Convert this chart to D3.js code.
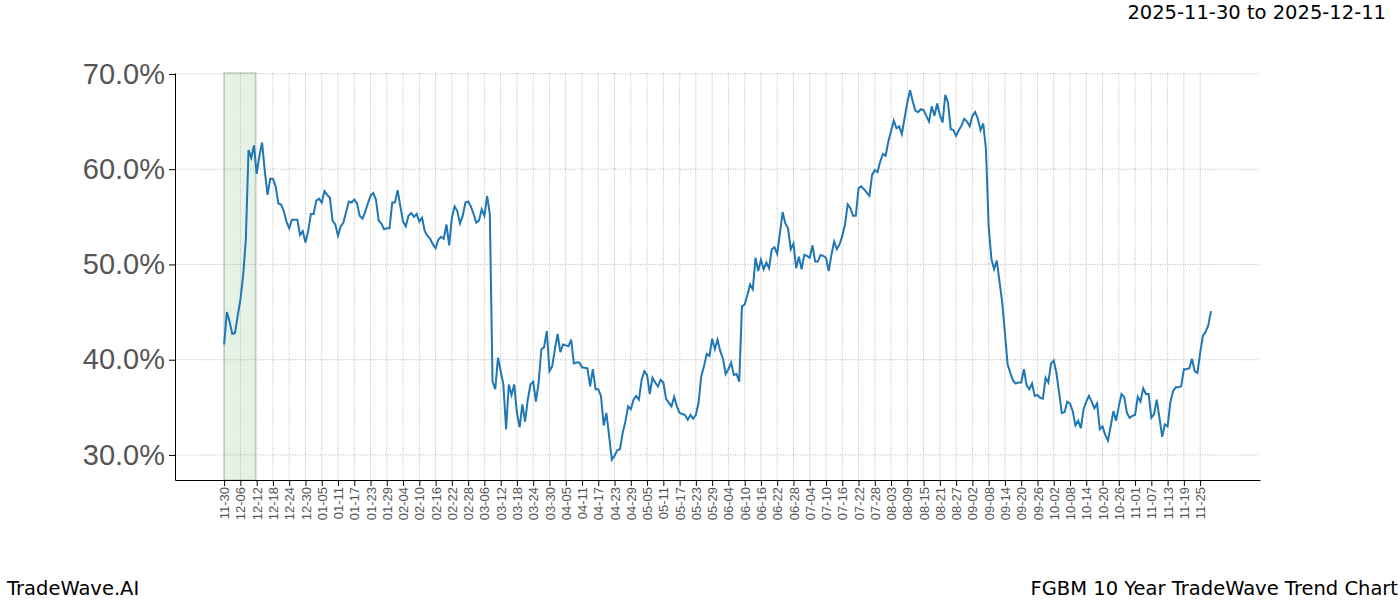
<!DOCTYPE html>
<html>
<head>
<meta charset="utf-8">
<script src="https://cdn.jsdelivr.net/npm/d3@7"></script>
<style>
  body { margin: 0; background: #fff; font-family: "DejaVu Sans", sans-serif; }
</style>
</head>
<body>
<div id="chart"></div>
<script>
// days since 2024-11-30 and trend value (%)
const days = [0,1,2,3,4,5,6,7,8,9,10,11,12,13,14,15,16,17,18,19,20,21,22,23,24,25,26,27,28,29,30,31,32,33,34,35,36,37,38,39,40,41,42,43,44,45,46,47,48,49,50,51,52,53,54,55,56,57,58,59,60,61,62,63,64,65,66,67,68,69,70,71,72,73,74,75,76,77,78,79,80,81,82,83,84,85,86,87,88,89,90,91,92,93,94,95,96,97,98,
  99,100,101,103,104,105,106,107,108,109,110,111,112,113,114,115,116,117,118,119,120,121,122,123,124,125,126,127,128,129,130,131,132,134,135,136,137,138,139,140,141,142,143,144,145,146,147,148,149,150,151,152,153,154,155,156,157,158,159,160,161,162,163,164,165,166,167,168,170,171,172,173,174,175,176,177,178,179,180,181,182,183,184,185,186,187,188,189,190,191,192,193,194,195,196,197,198,199,200,201,202,203,204,205,206,207,208,209,210,211,212,213,214,215,216,217,218,219,220,221,222,223,224,225,226,227,228,229,230,231,
  232,233,234,235,236,238,239,240,241,242,243,244,245,246,247,248,249,250,251,252,253,254,255,256,257,258,259,260,261,262,263,264,265,266,267,268,269,270,271,272,273,274,275,276,277,278,279,280,281,282,283,284,285,286,287,288,289,290,291,292,293,294,295,296,297,298,299,300,301,302,303,304,305,306,307,308,309,310,311,312,313,314,315,316,317,318,319,320,321,322,323,324,325,326,327,328,329,330,331,332,333,334,335,336,337,338,339,340,341,342,343,344,345,346,347,348,349,350,351,352,353,354,355,356,357,358,359,360,361,362,363,364];
const values = [41.6,45.0,44.0,42.7,42.8,44.6,46.3,48.8,52.6,62.0,61.2,62.5,59.5,61.4,62.8,59.8,57.3,59.0,59.0,58.2,56.4,56.3,55.6,54.5,53.8,54.7,54.7,54.7,53.1,53.5,52.3,53.5,55.3,55.3,56.7,56.9,56.5,57.7,57.3,57.0,54.6,54.2,53.0,54.0,54.4,55.5,56.6,56.5,56.8,56.4,55.1,54.8,55.5,56.4,57.2,57.5,56.8,54.6,54.3,53.7,53.8,53.8,56.5,56.5,57.8,56.1,54.5,54.0,55.1,55.4,55.0,55.3,54.5,54.9,53.5,53.0,52.7,52.1,51.7,52.6,52.9,52.7,54.2,52.0,54.9,56.1,55.6,54.3,55.1,56.5,56.6,56.1,55.3,54.4,54.6,55.8,55.1,57.2,55.3,
  37.7,36.9,40.2,37.4,32.7,37.4,36.3,37.4,34.4,32.9,35.3,33.5,35.8,37.4,37.7,35.6,37.6,41.1,41.3,43.0,38.8,39.3,41.1,42.7,40.8,41.6,41.5,41.4,42.1,39.6,39.7,39.7,39.2,39.1,37.2,39.0,36.9,36.9,36.2,33.1,34.4,32.0,29.5,29.9,30.5,30.6,32.3,33.5,35.1,34.8,35.8,36.2,35.8,37.9,38.8,38.4,36.4,38.1,37.6,37.2,37.9,37.6,35.9,35.5,35.1,36.1,35.1,34.4,34.2,33.7,34.2,33.8,34.2,35.5,38.3,39.3,40.6,40.4,42.2,41.1,42.1,40.9,40.1,38.5,39.0,39.7,38.4,38.5,37.7,45.6,45.8,46.8,47.9,47.4,50.7,49.3,50.5,49.5,50.2,49.6,51.6,51.8,51.1,53.3,55.5,54.3,53.8,51.6,52.2,49.6,50.8,49.5,51.0,50.9,50.7,52.0,50.3,50.3,51.0,50.9,50.7,49.3,51.0,52.4,51.6,52.1,53.0,54.2,56.3,55.9,
  55.1,55.1,58.0,58.2,57.9,57.2,59.4,59.9,59.7,60.8,61.6,61.4,62.9,64.0,65.1,64.3,64.5,63.7,65.4,67.0,68.3,67.1,66.1,66.0,66.3,66.2,65.6,65.0,66.6,65.6,66.9,65.7,64.9,67.8,67.0,64.2,64.1,63.5,64.1,64.6,65.3,65.0,64.5,65.6,66.0,65.3,64.1,64.8,62.1,54.0,50.6,49.5,50.4,48.2,46.0,42.8,39.5,38.6,37.8,37.5,37.6,37.6,39.0,37.3,36.9,37.5,36.2,36.3,36.0,35.9,38.1,37.6,39.6,39.9,38.6,36.5,34.4,34.5,35.6,35.4,34.6,33.1,33.6,32.8,34.8,35.6,36.2,35.6,34.9,35.4,32.7,33.0,32.1,31.5,33.0,34.6,33.6,35.1,36.4,36.1,34.4,33.9,34.1,34.2,36.1,35.6,37.0,36.4,36.4,33.9,34.3,35.8,33.9,31.9,33.2,33.0,35.5,36.7,37.1,37.1,37.2,39.0,39.0,39.1,40.1,38.8,38.6,40.7,42.5,42.9,43.6,45.1];
const yTicks = [30, 40, 50, 60, 70];
const spanDays = [0, 11.5];
const titleText = '2025-11-30 to 2025-12-11';
const leftFooter = 'TradeWave.AI';
const rightFooter = 'FGBM 10 Year TradeWave Trend Chart';

const start = new Date(2024, 10, 30);
const data = days.map((d, i) => ({ date: d3.timeDay.offset(start, d), value: values[i] }));
const tickDates = d3.range(0, 361, 6).map(d => d3.timeDay.offset(start, d));

const width = 1400;
const height = 600;
const margin = { top: 73, right: 140, bottom: 120, left: 175 };
const fmt = d3.timeFormat('%m-%d');

const svg = d3.select('#chart').append('svg')
  .attr('width', width)
  .attr('height', height);

const x = d3.scaleTime()
  .domain([d3.timeHour.offset(start, -18.1 * 24), d3.timeHour.offset(start, 382.1 * 24)])
  .range([margin.left, width - margin.right]);
const y = d3.scaleLinear()
  .domain([27.37, 70.1])
  .range([height - margin.bottom, margin.top]);

const spanX0 = x(d3.timeHour.offset(start, spanDays[0] * 24));
const spanX1 = x(d3.timeHour.offset(start, spanDays[1] * 24));
svg.append('rect')
  .attr('x', spanX0)
  .attr('y', margin.top)
  .attr('width', spanX1 - spanX0)
  .attr('height', height - margin.bottom - margin.top)
  .style('fill', '#e5f2e5')
  .style('stroke', '#bcd6bc')
  .style('stroke-width', 1.5);

// grid
svg.append('g').selectAll('line.v')
  .data(tickDates)
  .enter().append('line')
  .attr('x1', d => x(d)).attr('x2', d => x(d))
  .attr('y1', margin.top).attr('y2', height - margin.bottom)
  .style('stroke', '#999').style('stroke-width', 0.7).style('stroke-dasharray', '1,1.5');
svg.append('g').selectAll('line.h')
  .data(yTicks)
  .enter().append('line')
  .attr('x1', margin.left).attr('x2', width - margin.right)
  .attr('y1', d => y(d)).attr('y2', d => y(d))
  .style('stroke', '#999').style('stroke-width', 0.7).style('stroke-dasharray', '1,1.5');

// line
const line = d3.line()
  .x(d => x(d.date))
  .y(d => y(d.value));
svg.append('path')
  .datum(data)
  .attr('d', line)
  .style('fill', 'none')
  .style('stroke', '#1f77b4')
  .style('stroke-width', 2);

// axes
const xAxis = svg.append('g')
  .attr('transform', `translate(0,${height - margin.bottom})`)
  .call(d3.axisBottom(x).tickValues(tickDates).tickFormat(fmt).tickSizeOuter(0));
xAxis.selectAll('text')
  .attr('transform', 'rotate(-90)')
  .attr('x', -7).attr('y', 0).attr('dy', '0.35em')
  .style('text-anchor', 'end')
  .style('font-size', '13px')
  .style('fill', '#555');

const yAxis = svg.append('g')
  .attr('transform', `translate(${margin.left},0)`)
  .call(d3.axisLeft(y).tickValues(yTicks).tickFormat(d => d.toFixed(1) + '%').tickSizeOuter(0));
yAxis.selectAll('text')
  .attr('x', -10)
  .style('font-size', '29px')
  .style('fill', '#555');
svg.selectAll('.domain').style('stroke', '#000');

svg.append('text').attr('x', 1386).attr('y', 19).attr('text-anchor', 'end')
  .style('font-size', '19.5px').text(titleText);
svg.append('text').attr('x', 7).attr('y', 595).style('font-size', '19.5px').text(leftFooter);
svg.append('text').attr('x', 1398).attr('y', 595).attr('text-anchor', 'end')
  .style('font-size', '19.5px').text(rightFooter);
</script>
</body>
</html>
